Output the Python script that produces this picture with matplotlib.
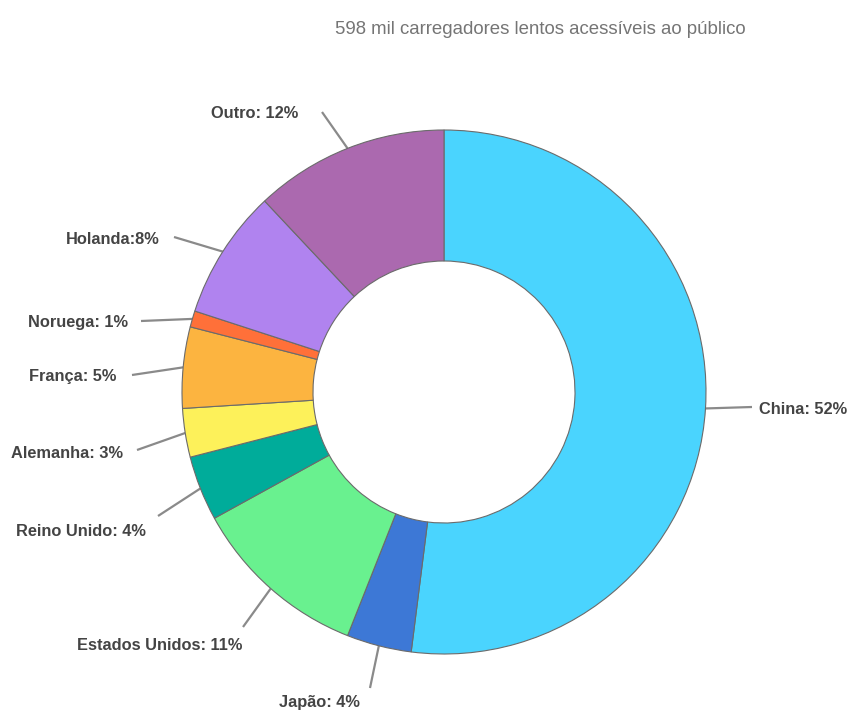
import numpy as np
import matplotlib.pyplot as plt

plt.rcParams['font.family'] = ['Liberation Sans', 'DejaVu Sans']

# data
countries = ['China', 'Japão', 'Estados Unidos', 'Reino Unido', 'Alemanha',
             'França', 'Noruega', 'Holanda', 'Outro']
shares = [52, 4, 11, 4, 3, 5, 1, 8, 12]
labels = ['China: 52%', 'Japão: 4%', 'Estados Unidos: 11%', 'Reino Unido: 4%',
          'Alemanha: 3%', 'França: 5%', 'Noruega: 1%', 'Holanda:8%', 'Outro: 12%']
colors = ['#4AD4FE', '#3D78D6', '#69F18F', '#00AC9A', '#FDF15A',
          '#FCB440', '#FF7039', '#B083EF', '#AB69AF']
title = '598 mil carregadores lentos acessíveis ao público'

# layout (figure pixels)
W, H = 849, 711
CX, CY, R = 444, 392, 262
# text anchors in pixels, with horizontal alignment
label_px = [(759, 410, 'left'), (360, 703, 'right'), (242, 646, 'right'),
            (146, 531, 'right'), (123, 454, 'right'), (116, 377, 'right'),
            (128, 323, 'right'), (160, 239, 'right'), (298, 114, 'right')]
# outer ends of the leader lines, pixels
leader_end_px = [(752, 407), (370, 688), (243, 627), (158, 516), (137, 450),
                 (132, 375), (141, 321), (174, 237), (322, 112)]


def to_data(px, py):
    return (px - CX) / R, (CY - py) / R


fig = plt.figure(figsize=(W / 100, H / 100), dpi=100)
ax = fig.add_axes([0, 0, 1, 1])

wedges, _ = ax.pie(shares, colors=colors, startangle=90, counterclock=False,
                   radius=1.0,
                   wedgeprops=dict(width=0.5, edgecolor='#6b6b6b', linewidth=0.8))

# pie resets the limits, so set them afterwards
ax.set_xlim(-CX / R, (W - CX) / R)
ax.set_ylim(-(H - CY) / R, CY / R)
ax.set_aspect('equal')
ax.axis('off')

for w, lab, (px, py, ha), (ex, ey) in zip(wedges, labels, label_px, leader_end_px):
    ang = np.deg2rad((w.theta1 + w.theta2) / 2)
    x0, y0 = np.cos(ang), np.sin(ang)
    x1, y1 = to_data(ex, ey)
    ax.plot([x0, x1], [y0, y1], color='#8a8a8a', lw=1.6,
            solid_capstyle='butt', zorder=0)
    tx, ty = to_data(px, py)
    ax.text(tx, ty, lab, ha=ha, va='center', fontsize=11.8,
            fontweight='bold', color='#444444')

fig.text(540 / W, 1 - 30 / H, title, ha='center', va='center',
         fontsize=13.4, color='#757575')

fig.savefig('out.png', dpi=100)
